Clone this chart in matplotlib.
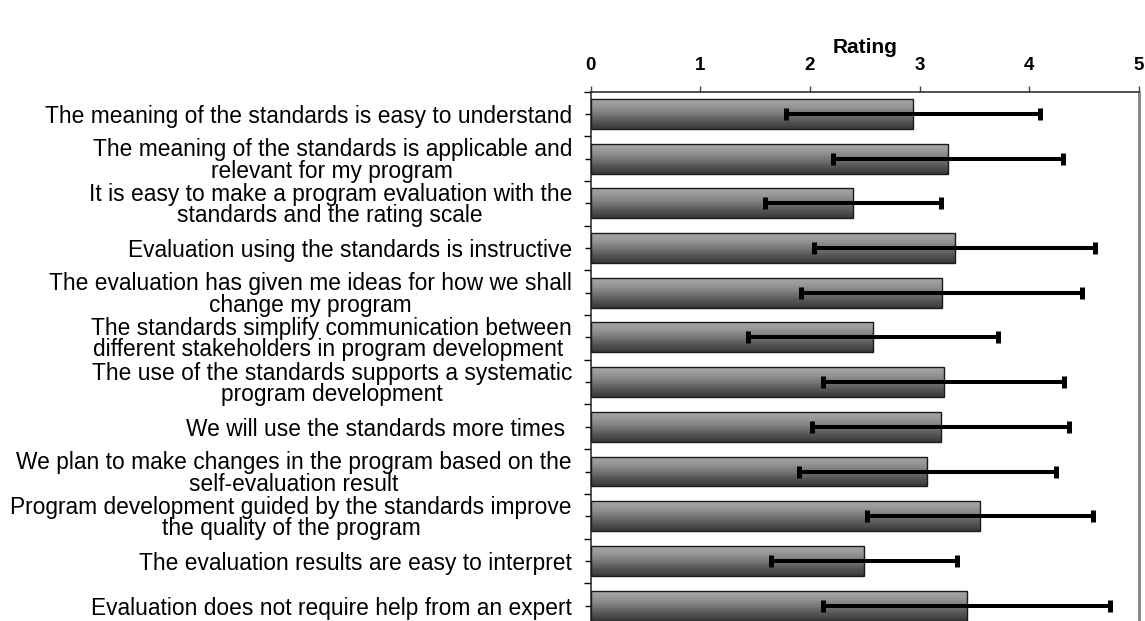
"""Horizontal bar chart of survey ratings with error bars."""

import numpy as np
import matplotlib
matplotlib.use("Agg")
import matplotlib.pyplot as plt
from matplotlib.colors import LinearSegmentedColormap

plt.rcParams["font.family"] = ["Liberation Sans", "DejaVu Sans"]

statements = [
    "The meaning of the standards is easy to understand",
    "The meaning of the standards is applicable and\nrelevant for my program",
    "It is easy to make a program evaluation with the\nstandards and the rating scale",
    "Evaluation using the standards is instructive",
    "The evaluation has given me ideas for how we shall\nchange my program",
    "The standards simplify communication between\ndifferent stakeholders in program development ",
    "The use of the standards supports a systematic\nprogram development",
    "We will use the standards more times ",
    "We plan to make changes in the program based on the\nself-evaluation result",
    "Program development guided by the standards improve\nthe quality of the program",
    "The evaluation results are easy to interpret",
    "Evaluation does not require help from an expert",
]
mean_rating = [2.94, 3.26, 2.39, 3.32, 3.20, 2.57, 3.22, 3.19, 3.07, 3.55, 2.49, 3.43]
std_rating = [1.16, 1.05, 0.80, 1.28, 1.28, 1.14, 1.10, 1.17, 1.17, 1.03, 0.85, 1.31]
x_ticks = [0, 1, 2, 3, 4, 5]

W, H, DPI = 1145, 621, 100
fig = plt.figure(figsize=(W / DPI, H / DPI), dpi=DPI)
ax = fig.add_axes([590.7 / W, 1 - 628 / H, (1139 - 590.7) / W, (628 - 91.5) / H])

y = np.arange(len(statements))
bars = ax.barh(y, mean_rating, height=0.67, facecolor="none",
               edgecolor="#1a1a1a", linewidth=1.0, zorder=3)

# vertical grey gradient inside each bar
cmap = LinearSegmentedColormap.from_list(
    "bargrad", ["#a8a8a8", "#969696", "#787878", "#555555", "#383838"])
grad = np.linspace(0, 1, 256).reshape(-1, 1)
for b in bars:
    x0, y0, w, h = b.get_x(), b.get_y(), b.get_width(), b.get_height()
    im = ax.imshow(grad, extent=(x0, x0 + w, y0 + h, y0), aspect="auto",
                   cmap=cmap, zorder=2, interpolation="bilinear")
    im.set_clip_path(b)

ax.errorbar(mean_rating, y, xerr=std_rating, fmt="none", ecolor="black",
            elinewidth=2.9, capsize=4.2, capthick=3.6, zorder=4)

ax.set_xlim(0, 5)
ax.set_ylim(len(statements) - 0.5, -0.5)

ax.xaxis.tick_top()
ax.xaxis.set_label_position("top")
ax.set_xticks(x_ticks)
ax.set_xticklabels([str(t) for t in x_ticks], fontsize=13.5, fontweight="bold")
ax.tick_params(axis="x", direction="out", length=4.3, width=1, color="#444444", pad=8.5)
ax.set_xlabel("Rating", fontsize=15, fontweight="bold", labelpad=3)

ax.set_yticks(y)
ax.set_yticklabels(statements, fontsize=16.4, linespacing=0.92)
for lbl in ax.get_yticklabels():
    lbl.set_multialignment("center")
ax.set_yticks(np.arange(len(statements) + 1) - 0.5, minor=True)
ax.tick_params(axis="y", which="major", direction="out", length=4, width=1, pad=9.5)
ax.tick_params(axis="y", which="minor", direction="out", length=5.3, width=1)

for side in ["top", "left"]:
    ax.spines[side].set_color("#333333")
    ax.spines[side].set_linewidth(1.2)
ax.spines["right"].set_color("#8c8c8c")
ax.spines["right"].set_linewidth(2.2)
ax.spines["bottom"].set_visible(False)

fig.savefig("out.png", dpi=DPI)
